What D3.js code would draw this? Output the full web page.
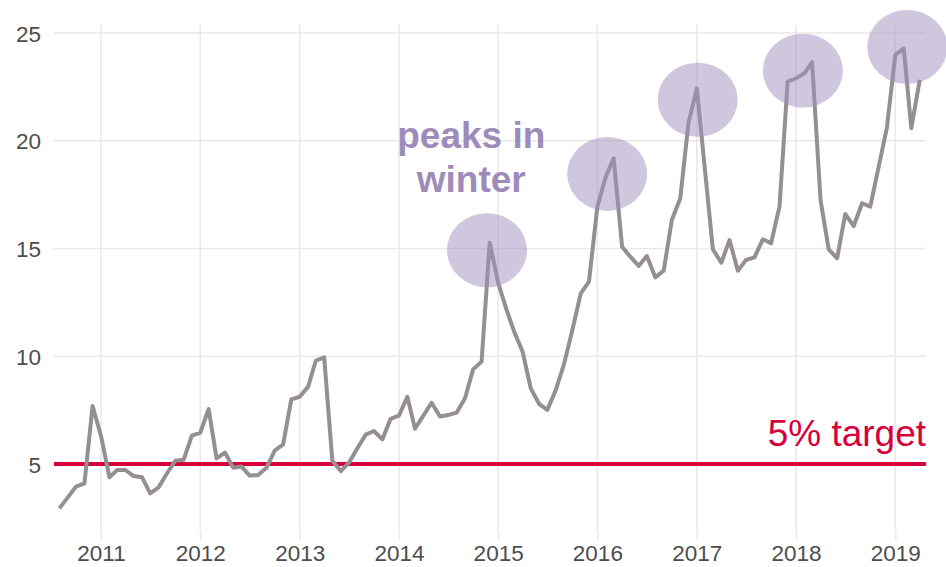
<!DOCTYPE html>
<html>
<head>
<meta charset="utf-8">
<script src="https://cdn.jsdelivr.net/npm/d3@7"></script>
<style>
  body { margin: 0; background: #fff; }
  svg { display: block; font-family: "Liberation Sans", Arial, sans-serif; }
</style>
</head>
<body>
<svg id="chart" width="946" height="567"></svg>
<script>
// monthly values, Aug 2010 .. Apr 2019
const startMonth = new Date(2010, 7, 1);
const values = [
  2.94, 3.45, 3.95, 4.10, 7.69,
  6.30, 4.38, 4.72, 4.72, 4.44, 4.38, 3.64, 3.92, 4.57, 5.15, 5.20, 6.31,
  6.45, 7.55, 5.26, 5.53, 4.83, 4.88, 4.46, 4.49, 4.83, 5.62, 5.91, 8.00,
  8.12, 8.59, 9.79, 9.95, 5.15, 4.67, 5.06, 5.73, 6.36, 6.53, 6.14, 7.09,
  7.24, 8.12, 6.64, 7.24, 7.84, 7.20, 7.27, 7.38, 8.05, 9.39, 9.75, 15.27,
  13.40, 12.15, 11.14, 10.21, 8.51, 7.78, 7.51, 8.43, 9.67, 11.22, 12.92, 13.46,
  16.94, 18.33, 19.18, 15.08, 14.62, 14.19, 14.65, 13.66, 13.97, 16.32, 17.33, 20.81,
  22.43, 18.49, 14.96, 14.34, 15.39, 13.97, 14.47, 14.59, 15.43, 15.24, 16.94, 22.74,
  22.90, 23.13, 23.65, 17.25, 14.96, 14.54, 16.60, 16.04, 17.10, 16.94, 18.80, 20.60,
  23.98, 24.29, 20.58, 22.82
];

// winter peak highlights
const peakDates = [new Date(2014, 10, 21), new Date(2016, 1, 6), new Date(2017, 0, 4), new Date(2018, 0, 26), new Date(2019, 1, 14)];
const peakValues = [14.92, 18.46, 21.9, 23.25, 24.35];

const yTicks = [5, 10, 15, 20, 25];
const xTicks = d3.range(2011, 2020).map(yr => new Date(yr, 0, 1));
const target = 5;

const data = values.map((v, i) => ({
  date: d3.timeMonth.offset(startMonth, i),
  value: v
}));

const svg = d3.select("#chart");
const plotLeft = 54, plotRight = 926, plotTop = 25, plotBottom = 531;

const x = d3.scaleTime()
  .domain([new Date(2010, 6, 12), new Date(2019, 3, 24)])
  .range([plotLeft, plotRight]);
const y = d3.scaleLinear()
  .domain([1.89, 25.37])
  .range([plotBottom, plotTop]);

const gridColor = "#ebe9e4";

// grid
svg.append("g")
  .selectAll("line")
  .data(yTicks)
  .join("line")
  .attr("x1", plotLeft).attr("x2", plotRight)
  .attr("y1", d => y(d)).attr("y2", d => y(d))
  .attr("stroke", gridColor)
  .attr("stroke-width", 1.6);

svg.append("g")
  .selectAll("line")
  .data(xTicks)
  .join("line")
  .attr("x1", d => x(d)).attr("x2", d => x(d))
  .attr("y1", plotTop).attr("y2", plotBottom)
  .attr("stroke", gridColor)
  .attr("stroke-width", 1.6);

// axes
const xAxis = svg.append("g")
  .attr("transform", `translate(0, ${plotBottom + 1})`)
  .call(d3.axisBottom(x).tickValues(xTicks).tickFormat(d3.timeFormat("%Y")).tickSize(8).tickPadding(5));
const yAxis = svg.append("g")
  .attr("transform", `translate(${plotLeft}, 0)`)
  .call(d3.axisLeft(y).tickValues(yTicks).tickSize(0).tickPadding(13));

[xAxis, yAxis].forEach(g => {
  g.select(".domain").remove();
  g.selectAll(".tick line").attr("stroke", gridColor).attr("stroke-width", 1.6);
  g.selectAll("text")
    .attr("fill", "#4d4d4d")
    .attr("font-size", "22.5px")
    .attr("font-family", "Liberation Sans, Arial, sans-serif");
});
yAxis.selectAll("text").attr("dy", "0.36em");

// target line
svg.append("line")
  .attr("x1", plotLeft).attr("x2", plotRight)
  .attr("y1", y(target)).attr("y2", y(target))
  .attr("stroke", "#d6003a")
  .attr("stroke-width", 4);

svg.append("text")
  .attr("x", plotRight)
  .attr("y", y(target) - 18)
  .attr("text-anchor", "end")
  .attr("fill", "#d6003a")
  .attr("font-size", "37px")
  .text("5% target");

// series
const line = d3.line()
  .x(d => x(d.date))
  .y(d => y(d.value));

svg.append("path")
  .datum(data)
  .attr("fill", "none")
  .attr("stroke", "#968f91")
  .attr("stroke-width", 4)
  .attr("stroke-linejoin", "round")
  .attr("d", line);

// peak highlights
svg.append("g")
  .selectAll("ellipse")
  .data(peakDates)
  .join("ellipse")
  .attr("cx", d => x(d))
  .attr("cy", (d, i) => y(peakValues[i]))
  .attr("rx", 40)
  .attr("ry", 37)
  .attr("fill", "#9e8fbd")
  .attr("fill-opacity", 0.5);

// annotation
const note = svg.append("text")
  .attr("x", x(new Date(2014, 8, 24)))
  .attr("y", y(19.66))
  .attr("text-anchor", "middle")
  .attr("fill", "#9d8cb9")
  .attr("font-weight", "bold")
  .attr("font-size", "37px");
note.append("tspan").text("peaks in");
note.append("tspan")
  .attr("x", x(new Date(2014, 8, 24)))
  .attr("dy", 44)
  .text("winter");
</script>
</body>
</html>
